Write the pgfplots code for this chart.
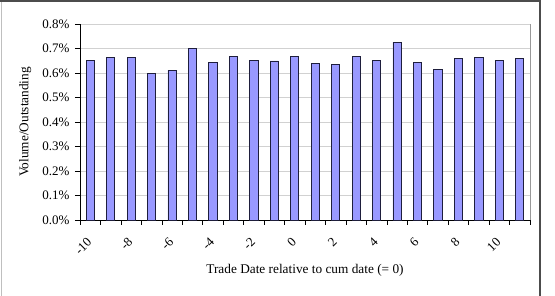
\documentclass[border=0pt]{standalone}
\usepackage{fontspec}
\setmainfont{Liberation Serif}
\usepackage{pgfplots}
\pgfplotsset{compat=1.18}
\definecolor{barfill}{RGB}{153,153,255}
\definecolor{baredge}{RGB}{30,30,60}
\begin{document}
\begin{tikzpicture}
\useasboundingbox (0pt,0pt) rectangle (555pt,296pt);
\fill[white] (0pt,0pt) rectangle (555pt,296pt);
\draw[black!25, line width=1pt] (1pt,0pt) -- (1pt,296pt);
\draw[black!70, line width=2pt] (0pt,295pt) -- (541pt,295pt);
\draw[black!70, line width=2pt] (540pt,296pt) -- (540pt,0pt);
\begin{axis}[
  at={(80pt,76pt)}, anchor=south west,
  width=450pt, height=196pt, scale only axis,
  xmin=-10.5, xmax=11.5, ymin=0, ymax=0.8,
  axis x line*=bottom, axis y line*=left,
  axis line style={-, black, line width=0.8pt},
  tick align=outside,
  major tick length=5pt, minor tick length=5pt,
  tick style={black, line width=0.6pt},
  xtick={-10,-8,-6,-4,-2,0,2,4,6,8,10},
  xticklabels={-10,-8,-6,-4,-2,0,2,4,6,8,10},
  major x tick style={draw=none},
  minor xtick={-10.5,-9.5,-8.5,-7.5,-6.5,-5.5,-4.5,-3.5,-2.5,-1.5,-0.5,0.5,1.5,2.5,3.5,4.5,5.5,6.5,7.5,8.5,9.5,10.5,11.5},
  xticklabel style={xshift=-4pt, yshift=-7pt, rotate=45, anchor=north east},
  ytick={0,0.1,0.2,0.3,0.4,0.5,0.6,0.7,0.8},
  yticklabel={\pgfmathprintnumber[fixed,fixed zerofill,precision=1]{\tick}\%},
  /pgf/number format/assume math mode=true,
  ymajorgrids, grid style={black!18, line width=0.6pt},
  every tick label/.append style={font=\fontsize{13}{15}\selectfont},
  yticklabel style={xshift=-2pt},
  xlabel={Trade Date relative to cum date (= 0)},
  ylabel={Volume/Outstanding},
  label style={font=\fontsize{13.3}{15}\selectfont},
  xlabel style={at={(axis description cs:0.5,-0.255)}, anchor=center},
  ylabel style={at={(axis description cs:-0.122,0.5)}, anchor=center},
  clip=false,
]
\addplot[ybar, bar width=0.4, fill=barfill, draw=baredge, line width=0.9pt] coordinates {
(-10,0.653) (-9,0.662) (-8,0.662) (-7,0.598) (-6,0.612) (-5,0.699)
(-4,0.644) (-3,0.666) (-2,0.653) (-1,0.649) (0,0.666) (1,0.639)
(2,0.634) (3,0.666) (4,0.653) (5,0.726) (6,0.644) (7,0.616)
(8,0.658) (9,0.662) (10,0.653) (11,0.658)
};
\draw[black!40, line width=0.6pt] (rel axis cs:1,0) -- (rel axis cs:1,1);
\end{axis}
\end{tikzpicture}
\end{document}
